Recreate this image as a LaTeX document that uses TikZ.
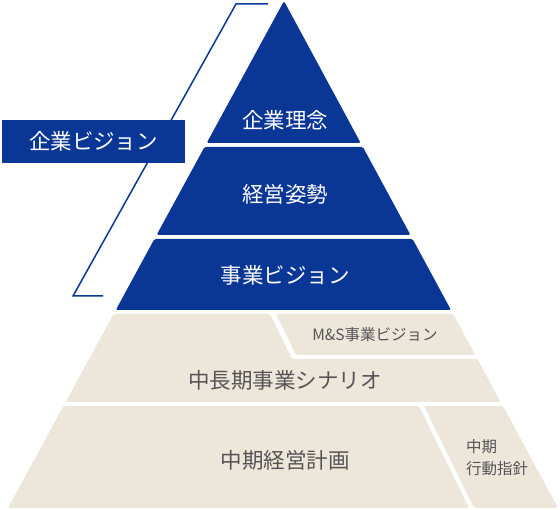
\documentclass[tikz,border=0pt]{standalone}
\usepackage{fontspec}
\newfontfamily\jp{Noto Sans CJK JP}
\usetikzlibrary{positioning}
\definecolor{navy}{HTML}{0A3696}
\definecolor{sand}{HTML}{EDE6DB}
\definecolor{ink}{HTML}{555555}

\begin{document}
\begin{tikzpicture}[x=1pt, y=-1pt,
		tier/.style = {fill=navy, rounded corners=1.5pt},
		layer/.style = {fill=sand, rounded corners=1.5pt},
		big/.style = {font=\jp\fontsize{21.5}{24}\selectfont, inner sep=0pt},
		small/.style = {font=\jp\fontsize{15.5}{22}\selectfont, inner sep=0pt},
		onblue/.style = {big, text=white},
		onsand/.style = {big, text=ink}
	]
		\useasboundingbox (0,0) rectangle (560,510);

		% bracket
		\draw[navy, line width=1.5pt] (268,4) -- (236,4) -- (73,296) -- (103,296);
		\node[fill=navy, minimum width=183pt, minimum height=43pt, onblue] (vision) at (93.5,141.5) {企業ビジョン};

		% blue tiers
		\fill[tier] (284,1) -- (360.7,143) -- (206.7,143) -- cycle;
		\fill[tier] (204.5,147) -- (362.9,147) -- (410.5,235) -- (156.6,235) -- cycle;
		\fill[tier] (154.4,239) -- (412.6,239) -- (451.0,310) -- (115.8,310) -- cycle;

		% sand tiers
		\fill[layer] (276,314) -- (453.1,314) -- (475.3,355) -- (296,355) -- cycle;
		\fill[layer] (113.6,314) -- (270,314) -- (292,359) -- (477.5,359) -- (500.7,402) -- (65.7,402) -- cycle;
		\fill[layer] (63.5,406) -- (419,406) -- (469,508) -- (8,508) -- cycle;
		\fill[layer] (424,406) -- (502.9,406) -- (558,508) -- (474,508) -- cycle;

		\node[onblue] (rinen) at (285,120) {企業理念};
		\node[onblue] (shisei) at (285,194) {経営姿勢};
		\node[onblue] (jigyo) at (285,275) {事業ビジョン};
		\node[small, text=ink] (ms) at (375,335) {M\&S事業ビジョン};
		\node[onsand] (scenario) at (285,380) {中長期事業シナリオ};
		\node[onsand] (keikaku) at (285,460) {中期経営計画};
		\node[small, text=ink, align=left, anchor=west] (shishin) at (466,458) {中期\\行動指針};
	\end{tikzpicture}
\end{document}
